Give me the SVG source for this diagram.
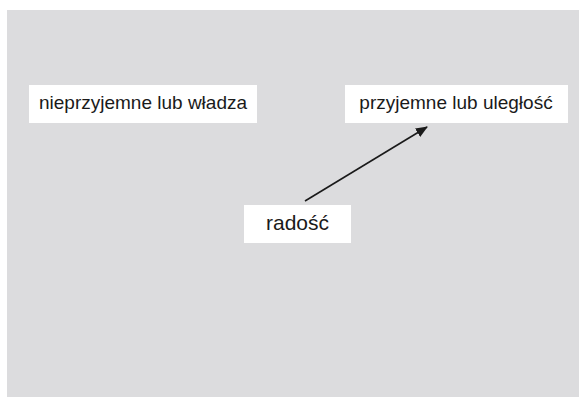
<svg xmlns="http://www.w3.org/2000/svg" width="579" height="397" viewBox="0 0 579 397">
<defs>
<style>
.box{fill:#ffffff}
.lbl{font-family:"Liberation Sans",Arial,sans-serif;font-size:19px;fill:#1a1a1a;text-anchor:middle}
.big{font-size:21px}
.conn{stroke:#1a1a1a;stroke-width:1.6;fill:none}
</style>
<marker id="ah" viewBox="0 0 12 10" refX="11" refY="5" markerWidth="12" markerHeight="10" markerUnits="userSpaceOnUse" orient="auto">
<path d="M0,0 L12,5 L0,10 z" fill="#1a1a1a"/>
</marker>
</defs>
<rect x="0" y="0" width="579" height="397" fill="#ffffff"/>
<rect x="7" y="10" width="572" height="387" fill="#dcdcde"/>
<g id="node-wladza">
<rect class="box" x="29" y="85" width="228" height="38"/>
<text class="lbl" x="143" y="109">nieprzyjemne lub władza</text>
</g>
<g id="node-uleglosc">
<rect class="box" x="345" y="85" width="223" height="38"/>
<text class="lbl" x="456" y="109">przyjemne lub uległość</text>
</g>
<g id="node-radosc">
<rect class="box" x="244" y="205" width="107" height="38"/>
<text class="lbl big" x="297.5" y="230">radość</text>
</g>
<g id="connectors">
<line class="conn" x1="305" y1="201" x2="427" y2="127" marker-end="url(#ah)"/>
</g>
</svg>
